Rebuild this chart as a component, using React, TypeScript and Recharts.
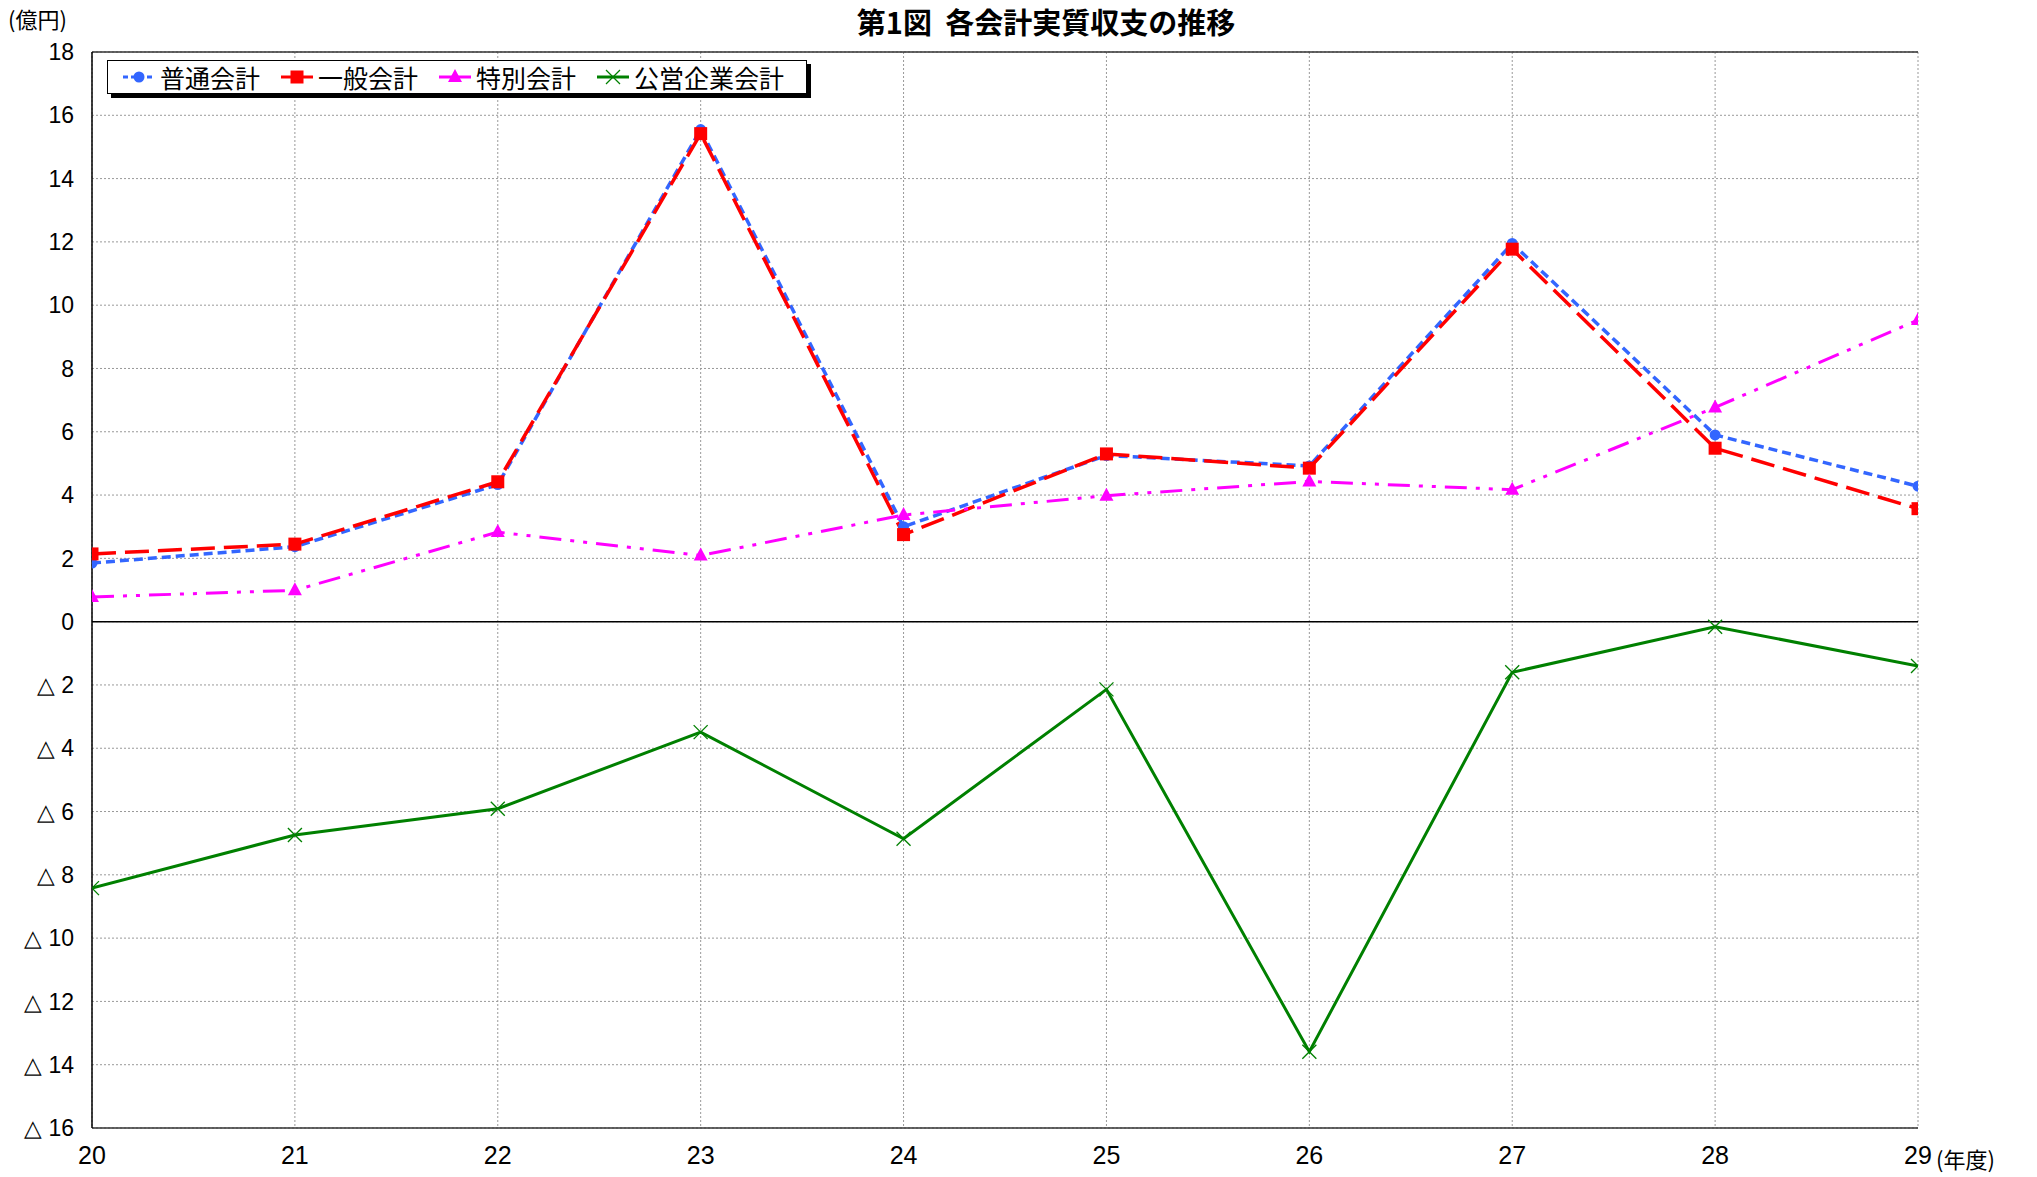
import React from 'react';
import {
  LineChart,
  Line,
  XAxis,
  YAxis,
  CartesianGrid,
  ReferenceLine,
} from 'recharts';

// 年度
const YEARS = [20, 21, 22, 23, 24, 25, 26, 27, 28, 29];
// 実質収支（億円）
const FUTSU = [1.85, 2.37, 4.33, 15.55, 3.0, 5.25, 4.92, 11.95, 5.9, 4.28];
const IPPAN = [2.14, 2.45, 4.42, 15.42, 2.75, 5.3, 4.85, 11.77, 5.48, 3.57];
const TOKUBETSU = [0.78, 0.99, 2.83, 2.09, 3.37, 3.98, 4.43, 4.17, 6.77, 9.53];
const KOEI = [-8.42, -6.74, -5.91, -3.49, -6.86, -2.14, -13.59, -1.6, -0.16, -1.4];
const Y_TICKS = [-16, -14, -12, -10, -8, -6, -4, -2, 0, 2, 4, 6, 8, 10, 12, 14, 16, 18];

const data = YEARS.map((y, i) => ({
  year: y,
  futsu: FUTSU[i],
  ippan: IPPAN[i],
  tokubetsu: TOKUBETSU[i],
  koei: KOEI[i],
}));

const BLUE = '#3366ff';
const RED = '#ff0000';
const MAGENTA = '#ff00ff';
const GREEN = '#008000';

const SERIES = [
  { key: 'futsu', name: '普通会計', color: BLUE, dash: '9 5', width: 3.5, shape: 'circle' },
  { key: 'ippan', name: '一般会計', color: RED, dash: '24 9', width: 3.5, shape: 'square' },
  { key: 'tokubetsu', name: '特別会計', color: MAGENTA, dash: '22 9 4 9 4 9', width: 3, shape: 'triangle' },
  { key: 'koei', name: '公営企業会計', color: GREEN, dash: undefined, width: 3, shape: 'cross' },
];

const JP = '"Noto Sans CJK JP", sans-serif';
const NUM = '"Liberation Sans", Arial, sans-serif';

function Marker({ cx, cy, shape, color }: any) {
  if (cx == null || cy == null) return null;
  if (shape === 'circle') return <circle cx={cx} cy={cy} r={5.5} fill={color} />;
  if (shape === 'square') return <rect x={cx - 6.5} y={cy - 6.5} width={13} height={13} fill={color} />;
  if (shape === 'triangle')
    return <polygon points={`${cx},${cy - 8} ${cx + 7},${cy + 5} ${cx - 7},${cy + 5}`} fill={color} />;
  return (
    <g stroke={color} strokeWidth={1.3}>
      <line x1={cx - 7} y1={cy - 7} x2={cx + 7} y2={cy + 7} />
      <line x1={cx - 7} y1={cy + 7} x2={cx + 7} y2={cy - 7} />
    </g>
  );
}

const makeDot = (shape: string, color: string) => (props: any) =>
  <Marker key={`${shape}-${props.index}`} cx={props.cx} cy={props.cy} shape={shape} color={color} />;

function LegendBox() {
  return (
    <div
      style={{
        position: 'absolute',
        left: 107,
        top: 60,
        width: 700,
        height: 34,
        boxSizing: 'border-box',
        border: '1.5px solid #000',
        boxShadow: '4px 4px 0 #000',
        background: '#fff',
        display: 'flex',
        alignItems: 'center',
        paddingLeft: 14,
        fontFamily: JP,
        fontSize: 25,
        color: '#000',
      }}
    >
      {SERIES.map((s) => (
        <div key={s.key} style={{ display: 'flex', alignItems: 'center', marginRight: 20 }}>
          <svg width={34} height={20} style={{ marginRight: 4 }}>
            <line x1={1} y1={10} x2={33} y2={10} stroke={s.color} strokeWidth={3} strokeDasharray={s.key === 'futsu' ? '5 3' : undefined} />
            <Marker cx={17} cy={10} shape={s.shape} color={s.color} />
          </svg>
          <span style={{ lineHeight: '30px' }}>{s.name}</span>
        </div>
      ))}
    </div>
  );
}

const fmt = (v: number) => (v < 0 ? `△ ${-v}` : `${v}`);

export default function App() {
  return (
    <div style={{ position: 'absolute', left: 0, top: 0, width: 2037, height: 1177, background: '#fff', overflow: 'hidden' }}>
      <LineChart width={2037} height={1177} data={data} margin={{ top: 52, right: 119, bottom: 0, left: 0 }}>
        <CartesianGrid stroke="#999" strokeDasharray="2 2" strokeWidth={1} />
        <XAxis
          dataKey="year"
          type="number"
          domain={[20, 29]}
          ticks={YEARS}
          height={49}
          tickLine={false}
          tickMargin={12}
          axisLine={{ stroke: '#333', strokeWidth: 1.5 }}
          tick={{ fill: '#000', fontSize: 25, fontFamily: NUM }}
          allowDataOverflow
        />
        <YAxis
          domain={[-16, 18]}
          ticks={Y_TICKS}
          width={92}
          interval={0}
          tickLine={false}
          tickMargin={12}
          tickFormatter={fmt}
          axisLine={{ stroke: '#000', strokeWidth: 1.5 }}
          tick={{ fill: '#000', fontSize: 23, fontFamily: NUM }}
          allowDataOverflow
        />
        <YAxis
          yAxisId="right"
          orientation="right"
          domain={[-16, 18]}
          width={0}
          tick={false}
          tickLine={false}
          axisLine={{ stroke: '#333', strokeWidth: 1.5 }}
        />
        <ReferenceLine y={0} stroke="#000" strokeWidth={1.5} />
        <ReferenceLine y={18} stroke="#333" strokeWidth={1.5} />
        {SERIES.map((s) => (
          <Line
            key={s.key}
            dataKey={s.key}
            name={s.name}
            type="linear"
            stroke={s.color}
            strokeWidth={s.width}
            strokeDasharray={s.dash}
            dot={makeDot(s.shape, s.color)}
            activeDot={false}
            isAnimationActive={false}
          />
        ))}
      </LineChart>
      <div
        style={{
          position: 'absolute',
          left: 646,
          width: 800,
          top: 7,
          textAlign: 'center',
          whiteSpace: 'pre',
          fontFamily: JP,
          fontWeight: 'bold',
          fontSize: 29,
          lineHeight: 1,
          color: '#000',
        }}
      >
        {'第1図  各会計実質収支の推移'}
      </div>
      <div style={{ position: 'absolute', left: 8, top: 7, fontFamily: JP, fontSize: 22, lineHeight: 1 }}>
        (億円)
      </div>
      <div style={{ position: 'absolute', left: 1936, top: 1147, fontFamily: JP, fontSize: 22, lineHeight: 1 }}>
        (年度)
      </div>
      <LegendBox />
    </div>
  );
}
